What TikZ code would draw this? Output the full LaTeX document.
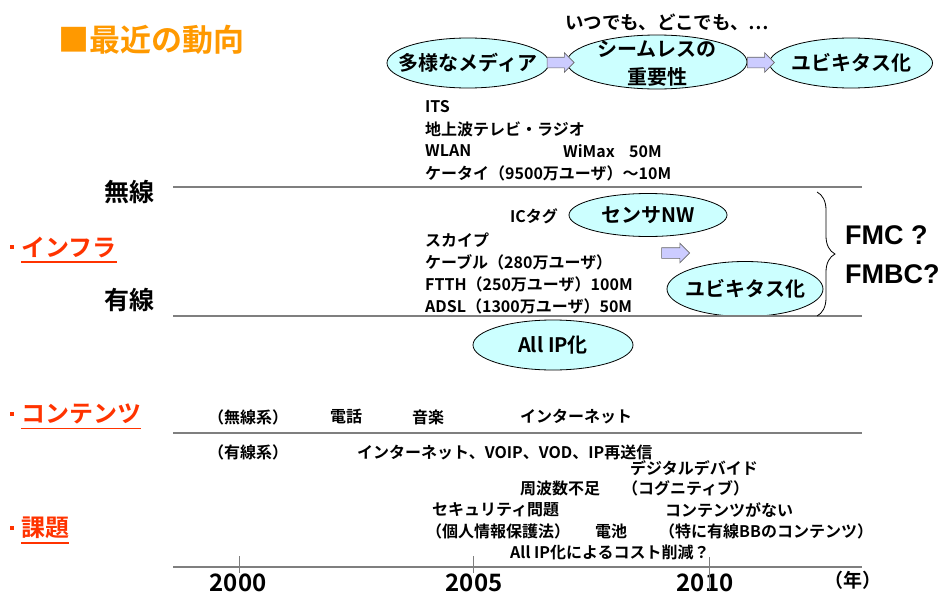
\documentclass[tikz,border=0pt]{standalone}
\usepackage{fontspec}
\setmainfont{Noto Sans CJK JP}[BoldFont={Noto Sans CJK JP Bold}]
\newfontfamily\arialfont{Liberation Sans}
\usetikzlibrary{shapes.geometric,shapes.arrows,decorations.pathreplacing,calc}
\definecolor{titleorange}{HTML}{FF9900}
\definecolor{labelred}{HTML}{FF3300}
\definecolor{ellfill}{HTML}{CCFFFF}
\definecolor{arrfill}{HTML}{CCCCFF}
\definecolor{arredge}{HTML}{666666}
\definecolor{linegray}{HTML}{7F7F7F}
\newcommand\myfs[1]{\fontsize{#1}{#1}\selectfont}
\tikzset{
  txt/.style={anchor=west, inner sep=0pt, font=\bfseries\myfs{16}},
  ell/.style={ellipse, draw=black, line width=0.8pt, fill=ellfill, inner sep=0pt},
  elltext/.style={inner sep=0pt, align=center, font=\bfseries\myfs{20}},
  barrow/.style={single arrow, draw=arredge, fill=arrfill, line width=0.6pt,
    minimum height=27pt, minimum width=0pt, text height=10pt, text depth=0pt,
    text width=0pt, single arrow head extend=4.5pt,
    single arrow head indent=0pt, inner sep=0pt},
  sepline/.style={draw=linegray, line width=1.2pt},
  sect/.style={anchor=west, inner sep=0pt, text=labelred, font=\bfseries\myfs{24}},
  sectdot/.style={fill=labelred, inner sep=0pt, minimum size=4.5pt},
  uline/.style={draw=labelred, line width=1.8pt},
  yeartick/.style={draw=linegray, line width=1pt},
  year/.style={inner sep=0pt, font=\bfseries\myfs{24}},
  side/.style={anchor=west, inner sep=0pt, font=\bfseries\myfs{25}},
  fmc/.style={anchor=west, inner sep=0pt, font=\arialfont\bfseries\myfs{27}},
}
\begin{document}
\begin{tikzpicture}[x=1pt,y=-1pt]
\useasboundingbox (0,0) rectangle (945,597);

% title
\node[anchor=west, inner sep=0pt, text=titleorange, font=\bfseries\myfs{31}] (title) at (58,40) {■最近の動向};
\node[anchor=west, inner sep=0pt, font=\bfseries\myfs{18.5}] (anytime) at (565,22) {いつでも、どこでも、…};

% top ellipses
\node[ell, minimum width=162pt, minimum height=50pt] (media) at (468,63) {};
\node[elltext] (mediat) at (media.center) {多様なメディア};
\node[ell, minimum width=180pt, minimum height=54pt] (seam) at (657,62) {};
\node[elltext, text depth=0pt, font=\bfseries\fontsize{20}{28}\selectfont] (seamt) at (657,63) {シームレスの\\重要性};
\node[ell, minimum width=163pt, minimum height=50pt] (ubi) at (851,63) {};
\node[elltext] (ubit) at (ubi.center) {ユビキタス化};
\node[barrow] (arr1) at ($(media.east)!0.5!(seam.west)$) {};
\node[barrow] (arr2) at ($(seam.east)!0.5!(ubi.west)$) {};

% wireless block
\node[txt] (its) at (425,107) {ITS};
\node[txt] (tv) at (425,129) {地上波テレビ・ラジオ};
\node[txt] (wlan) at (425,151) {WLAN};
\node[txt] (wimax) at (563,151) {WiMax\hspace{0.9em}50M};
\node[txt] (keitai) at (425,173) {ケータイ（9500万ユーザ）～10M};

\coordinate (wl) at (173,187); \coordinate (wr) at (862,187);
\draw[sepline] (wl) -- (wr);
\node[side] (musen) at (104,192) {無線};

% infra label
\node[sectdot] (dot1) at (12,247) {};
\node[sect] (infra) at (21,247) {インフラ};
\draw[uline] ($(infra.base west)+(0,6)$) -- ($(infra.base east)+(0,6)$);

% wired block
\node[txt] (ictag) at (510,216) {ICタグ};
\node[ell, minimum width=158pt, minimum height=43pt] (sensor) at (648,215) {};
\node[elltext] (sensort) at (sensor.center) {センサNW};
\node[txt] (skype) at (425,240) {スカイプ};
\node[txt] (cable) at (425,262) {ケーブル（280万ユーザ）};
\node[txt] (ftth) at (425,284) {FTTH（250万ユーザ）100M};
\node[txt] (adsl) at (425,306) {ADSL（1300万ユーザ）50M};
\node[barrow, minimum height=28pt] (arr3) at (673,253) {};
\node[ell, minimum width=156pt, minimum height=55pt] (ubi2) at (745,289) {};
\node[elltext] (ubi2t) at (ubi2.center) {ユビキタス化};

\coordinate (yl) at (173,316); \coordinate (yr) at (862,316);
\draw[sepline] (yl) -- (yr);
\node[side] (yusen) at (104,300) {有線};

\node[ell, minimum width=160pt, minimum height=50pt] (allip) at (553,345) {};
\node[elltext] (allipt) at (allip.center) {All IP化};

% brace and FMC
\coordinate (bt) at (817,192); \coordinate (bb) at (817,316);
\draw[decorate, decoration={brace, amplitude=18pt}, line width=0.8pt] (bt) -- (bb);
\node[fmc] (fmc1) at (845,235) {FMC ?};
\node[fmc] (fmc2) at (845,274) {FMBC?};

% contents
\node[sectdot] (dot2) at (12,414) {};
\node[sect] (contents) at (21,414) {コンテンツ};
\draw[uline] ($(contents.base west)+(0,6)$) -- ($(contents.base east)+(0,6)$);
\node[txt] (mus) at (208,417) {（無線系）};
\node[txt] (tel) at (330,417) {電話};
\node[txt] (music) at (412,417) {音楽};
\node[txt] (inet1) at (520,417) {インターネット};
\coordinate (cl) at (173,433); \coordinate (cr) at (862,433);
\draw[sepline] (cl) -- (cr);
\node[txt] (yus) at (208,452) {（有線系）};
\node[txt] (inet2) at (357,452) {インターネット、VOIP、VOD、IP再送信};

% issues
\node[sectdot] (dot3) at (12,528) {};
\node[sect] (kadai) at (21,528) {課題};
\draw[uline] ($(kadai.base west)+(0,6)$) -- ($(kadai.base east)+(0,6)$);
\node[txt] (digital) at (630,468) {デジタルデバイド};
\node[txt] (freq) at (520,488) {周波数不足};
\node[txt] (cogn) at (622,488) {（コグニティブ）};
\node[txt] (sec) at (432,510) {セキュリティ問題};
\node[txt] (nocont) at (665,510) {コンテンツがない};
\node[txt] (priv) at (426,531) {（個人情報保護法）};
\node[txt] (batt) at (595,531) {電池};
\node[txt] (bb) at (659,531) {（特に有線BBのコンテンツ）};
\node[txt] (cost) at (510,552) {All IP化によるコスト削減？};

% timeline
\coordinate (tl) at (173,567); \coordinate (tr) at (862,567);
\draw[sepline] (tl) -- (tr);
\node[year] (y2000) at (238,583) {2000};
\node[year] (y2005) at (474,583) {2005};
\node[year] (y2010) at (705,583) {2010};
\node[anchor=west, inner sep=0pt, font=\bfseries\myfs{19}] (nen) at (824,580) {（年）};
\coordinate (t0a) at (239,556); \coordinate (t0b) at (239,573);
\coordinate (t5a) at (473,556); \coordinate (t5b) at (473,573);
\coordinate (t10a) at (709,557); \coordinate (t10b) at (709,590);
\draw[yeartick] (t0a) -- (t0b);
\draw[yeartick] (t5a) -- (t5b);
\draw[yeartick] (t10a) -- (t10b);
\end{tikzpicture}
\end{document}
